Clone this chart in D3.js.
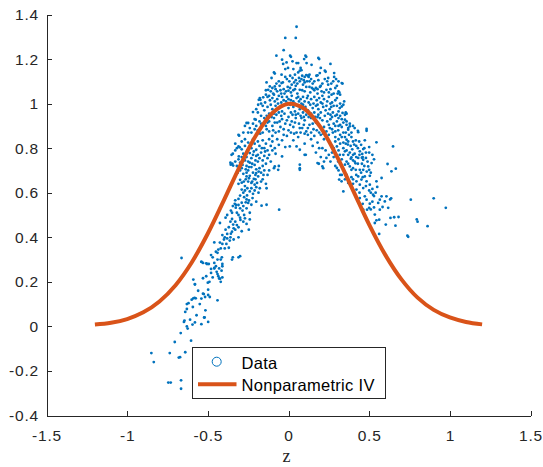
<!DOCTYPE html>
<html>
<head>
<meta charset="utf-8">
<script src="https://cdn.jsdelivr.net/npm/d3@7"></script>
<style>
  body { margin: 0; background: #fff; }
  svg { display: block; }
  text { font-family: "Liberation Sans", Arial, Helvetica, sans-serif; }
</style>
</head>
<body>
<svg id="chart" width="543" height="467"></svg>
<script>
// tick labels
const xTicks = [-1.5, -1, -0.5, 0, 0.5, 1, 1.5];
const yTicks = [-0.4, -0.2, 0, 0.2, 0.4, 0.6, 0.8, 1, 1.2, 1.4];

// Nonparametric IV curve
const curveZ = [-1.2, -1.1, -1.0, -0.9, -0.8, -0.7, -0.6, -0.5, -0.4, -0.3, -0.2, -0.1, 0,
                0.1, 0.2, 0.3, 0.4, 0.5, 0.6, 0.7, 0.8, 0.9, 1.0, 1.1, 1.2];
const curveY = [0.008, 0.016, 0.033, 0.063, 0.112, 0.185, 0.287, 0.417, 0.567, 0.721, 0.859, 0.958, 0.999,
                0.976, 0.892, 0.763, 0.611, 0.457, 0.321, 0.211, 0.129, 0.074, 0.040, 0.020, 0.009];

// scatter data [z, y], grouped by region of the cloud
const tailPoints = [
  [-0.85,-0.12],[-0.835,-0.16],[-0.736,-0.12],[-0.68,-0.14],[-0.672,-0.138],[-0.64,-0.116],[-0.745,-0.252],
  [-0.73,-0.252],[-0.666,-0.242],[-0.666,-0.28],[-0.705,-0.07],[-0.604,-0.064],[-0.668,-0.03],[-0.645,0.026],
  [-0.648,0.02],[-0.63,0.0],[-0.625,-0.01],[-0.595,0.008],[-0.58,0.018],[-0.54,0.01],[-0.498,0.02],[-0.52,0.04],
  [-0.64,0.065],[-0.63,0.078],[-0.593,0.087],[-0.63,0.1],[-0.62,0.104],[-0.59,0.126],[-0.582,0.128],[-0.575,0.126],
  [-0.54,0.125],[-0.517,0.132],[-0.488,0.132],[-0.44,0.117],[-0.53,0.147],[-0.525,0.145],[-0.498,0.141],
  [-0.515,0.072],[-0.523,0.04],[-0.59,0.21],[-0.58,0.19],[-0.58,0.188],[-0.53,0.216],[-0.51,0.225],[-0.5,0.196],
  [-0.49,0.2],[-0.498,0.165],[-0.48,0.258],[-0.46,0.262],[-0.445,0.245],[-0.44,0.235],[-0.435,0.225],[-0.43,0.215],
  [-0.424,0.214],[-0.42,0.2],[-0.41,0.22],[-0.41,0.28],[-0.51,0.283],[-0.505,0.28],[-0.54,0.29],[-0.663,0.307],
  [-0.48,0.24],[-0.47,0.22],[-0.56,0.16],[-0.55,0.1],[-0.57,0.05],[-0.61,0.03],[-0.6,0.12]
];

const leftArmPoints = [
  [-0.54,0.29],[-0.53,0.285],[-0.494,0.28],[-0.46,0.26],[-0.41,0.27],[-0.415,0.25],[-0.35,0.30],[-0.31,0.31],
  [-0.413,0.31],[-0.42,0.3],[-0.345,0.31],[-0.3,0.315],[-0.45,0.335],[-0.44,0.33],[-0.435,0.345],[-0.48,0.32],
  [-0.395,0.35],[-0.41,0.37],[-0.37,0.353],[-0.425,0.376],[-0.46,0.377],[-0.395,0.4],[-0.38,0.415],[-0.364,0.385],
  [-0.357,0.416],[-0.35,0.425],[-0.31,0.4],[-0.4,0.39],[-0.38,0.395],[-0.34,0.39],[-0.29,0.427],[-0.33,0.434],
  [-0.39,0.434],[-0.246,0.434],[-0.425,0.464],[-0.343,0.457],[-0.39,0.488],[-0.38,0.5],[-0.35,0.482],
  [-0.24,0.48],[-0.26,0.46],[-0.28,0.47],[-0.357,0.52],[-0.35,0.51],[-0.333,0.55],[-0.325,0.545],[-0.3,0.488],
  [-0.298,0.478],[-0.285,0.52],[-0.275,0.5],[-0.24,0.51],[-0.327,0.533],[-0.345,0.54],[-0.2,0.56],
  [-0.3,0.587],[-0.28,0.6],[-0.275,0.58],[-0.31,0.572],[-0.33,0.566],[-0.265,0.557],[-0.28,0.54],[-0.25,0.554],
  [-0.23,0.546],[-0.223,0.576],[-0.257,0.588],[-0.136,0.546],[-0.167,0.542],[-0.058,0.524],
  [-0.29,0.614],[-0.27,0.63],[-0.23,0.62],[-0.24,0.606],[-0.186,0.6],[-0.178,0.62],[-0.136,0.62],
  [-0.26,0.673],[-0.24,0.676],[-0.2,0.688],[-0.188,0.673],[-0.215,0.662],[-0.195,0.644],[-0.277,0.65],
  [-0.3,0.658],[-0.25,0.65],[-0.23,0.644],[-0.21,0.636],[-0.16,0.66],[-0.14,0.64],[-0.17,0.65],
  [-0.358,0.726],[-0.348,0.73],[-0.36,0.735],[-0.343,0.722],[-0.33,0.74],[-0.32,0.72],[-0.3,0.735],[-0.29,0.71],
  [-0.27,0.745],[-0.26,0.72],[-0.25,0.7],[-0.24,0.735],[-0.23,0.715],[-0.22,0.69],[-0.21,0.725],[-0.2,0.705],
  [-0.19,0.74],[-0.18,0.71],[-0.17,0.69],[-0.16,0.72],[-0.15,0.7],[-0.14,0.73],[-0.13,0.68],[-0.12,0.7],
  [-0.11,0.74],[-0.06,0.72],[-0.09,0.71],[-0.085,0.718],[-0.064,0.703],
  [-0.33,0.79],[-0.32,0.8],[-0.29,0.795],[-0.27,0.81],[-0.255,0.79],[-0.23,0.8],[-0.215,0.785],[-0.19,0.77],
  [-0.165,0.8],[-0.145,0.785],[-0.12,0.77],[-0.1,0.79],[-0.08,0.775],[-0.31,0.75],[-0.29,0.76],[-0.27,0.765],
  [-0.25,0.74],[-0.22,0.77],[-0.205,0.745],[-0.18,0.755],[-0.16,0.745],[-0.13,0.755],[-0.285,0.725],
  [-0.265,0.705],[-0.245,0.715],[-0.225,0.73],[-0.205,0.68],[-0.185,0.695],[-0.155,0.68],[-0.28,0.685],
  [-0.26,0.69],[-0.3,0.7],[-0.315,0.69],[-0.31,0.64],[-0.29,0.645],[-0.265,0.66],[-0.245,0.665],[-0.225,0.65],
  [-0.205,0.66],[-0.27,0.61],[-0.255,0.62],[-0.21,0.61],[-0.2,0.625],[-0.22,0.595],[-0.26,0.57],[-0.245,0.565],
  [-0.29,0.555],[-0.31,0.545],[-0.3,0.53],[-0.26,0.53],[-0.32,0.51],[-0.31,0.5],[-0.27,0.485],[-0.36,0.47],
  [-0.33,0.47],[-0.32,0.455],[-0.37,0.445],[-0.34,0.44],[-0.31,0.445],[-0.36,0.4],[-0.41,0.41],[-0.42,0.35],
  [-0.385,0.37],[-0.44,0.3],[-0.46,0.285],[-0.47,0.31],[-0.45,0.27],[-0.43,0.26]
];

const corePoints = [
  // upper edge and outliers
  [0.05,1.345],[-0.02,1.295],[0.045,1.295],[-0.03,1.24],[-0.075,1.215],[0.01,1.215],[0.015,1.21],[0.105,1.215],
  [0.11,1.21],[0.185,1.205],[0.19,1.2],[0.26,1.178],[-0.04,1.197],[-0.012,1.185],[-0.033,1.178],[0.025,1.19],
  [0.05,1.182],[0.097,1.2],[0.06,1.182],[0.143,1.174],[0.112,1.182],[0.2,1.16],[-0.003,1.16],[-0.02,1.155],
  [0.03,1.155],[0.075,1.16],[0.23,1.143],[0.225,1.148],[0.283,1.137],[0.194,1.137],[-0.09,1.14],[-0.085,1.135],
  // 1.05 - 1.15
  [-0.105,1.115],[-0.136,1.095],[-0.043,1.13],[-0.043,1.092],[-0.02,1.12],[-0.01,1.11],[0.01,1.125],[0.005,1.1],
  [0.025,1.115],[0.04,1.13],[0.045,1.105],[0.06,1.14],[0.07,1.148],[0.08,1.15],[0.065,1.115],[0.08,1.11],
  [0.095,1.105],[0.1,1.12],[0.11,1.128],[0.12,1.125],[0.13,1.13],[0.125,1.12],[0.173,1.125],[0.18,1.127],
  [0.246,1.115],[0.283,1.12],[0.277,1.1],[0.33,1.092],[0.246,1.085],[0.2,1.08],[0.195,1.075],[0.17,1.07],
  [0.18,1.065],[0.145,1.07],[0.155,1.065],[0.16,1.06],[0.13,1.075],[0.07,1.062],[0.085,1.06],[0.1,1.055],
  [0.04,1.065],[0.31,1.055],[0.315,1.05],[0.305,1.045],[0.32,1.04],[0.267,1.04],[0.235,1.062],[0.22,1.05],
  [0.205,1.055],[0.21,1.035],[-0.085,1.077],[-0.116,1.077],[-0.126,1.062],[-0.11,1.055],[-0.07,1.055],
  [-0.05,1.06],[-0.03,1.065],[-0.015,1.055],[0.0,1.058],[0.015,1.05],[0.03,1.06],[0.045,1.08],[0.02,1.085],
  [-0.06,1.1],[-0.075,1.09],[0.13,1.1],[0.15,1.09],[0.09,1.085],[0.11,1.075],[0.26,1.065],[0.29,1.07],[0.335,1.09],
  [-0.14,1.06],[-0.1,1.07],[-0.095,1.045],[-0.08,1.065],[-0.055,1.08],[-0.035,1.095],[-0.025,1.045],
  [-0.005,1.075],[0.01,1.07],[0.035,1.095],[0.055,1.09],[0.07,1.1],[0.085,1.125],[0.1,1.095],[0.115,1.1],
  [0.14,1.11],[0.16,1.1],[0.185,1.105],[0.21,1.09],[0.225,1.11],[0.24,1.1],[0.265,1.09],[0.3,1.08],[0.295,1.11],
  [0.31,1.1],[0.25,1.05],[0.28,1.045],[0.18,1.045],[0.135,1.05],[0.055,1.045],[-0.045,1.045],
  // 0.95 - 1.05
  [-0.184,1.017],[-0.174,1.017],[-0.157,1.028],[-0.188,0.995],[-0.14,1.04],[-0.178,1.025],[-0.13,1.03],
  [-0.12,1.035],[-0.1,1.025],[-0.09,1.04],[-0.07,1.02],[-0.06,1.035],[-0.04,1.03],[-0.03,1.015],[-0.01,1.03],
  [0.0,1.02],[0.02,1.035],[0.03,1.01],[0.05,1.025],[0.06,1.03],[0.075,1.02],[0.09,1.03],[0.1,1.01],[0.115,1.025],
  [0.12,1.035],[0.14,1.02],[0.16,1.03],[0.175,1.015],[0.19,1.025],[0.2,1.005],[0.22,1.02],[0.24,1.01],[0.25,1.03],
  [0.26,1.0],[0.27,1.005],[0.29,1.015],[0.3,0.99],[0.33,0.987],[0.318,0.98],[0.34,0.995],[0.355,0.96],
  [0.36,0.955],[0.35,0.95],[0.335,0.958],[-0.22,0.962],[-0.2,0.975],[-0.16,0.99],[-0.15,0.97],[-0.13,0.985],
  [-0.11,0.995],[-0.1,0.975],[-0.08,0.99],[-0.065,1.0],[-0.05,0.985],[-0.04,0.965],[-0.02,0.995],[0.0,0.98],
  [0.01,0.995],[0.03,0.985],[0.04,0.965],[0.055,0.99],[0.07,0.975],[0.08,1.0],[0.09,0.96],[0.105,0.985],
  [0.12,0.97],[0.135,0.995],[0.15,0.98],[0.16,0.96],[0.17,0.99],[0.185,0.975],[0.2,0.96],[0.215,0.985],
  [0.23,0.97],[0.245,0.955],[0.255,0.975],[0.275,0.96],[0.29,0.945],[0.31,0.965],[-0.06,0.96],[-0.09,0.955],
  [-0.12,0.955],[0.015,0.96],[0.06,0.955],[0.11,0.95],[0.14,0.955],[0.185,0.95],
  [-0.17,1.0],[-0.145,1.005],[-0.115,1.015],[-0.085,1.01],[-0.045,1.005],[-0.015,1.01],[0.015,1.015],[0.04,1.0],
  [0.065,1.01],[0.09,0.995],[0.125,1.005],[0.155,1.0],[0.18,0.995],[0.21,1.0],[0.235,0.99],[0.265,0.985],
  [0.28,0.99],[0.3,1.025],[0.32,1.0],[0.345,1.01],
  [-0.19,0.96],[-0.17,0.945],[-0.135,0.945],[-0.105,0.94],[-0.075,0.95],[-0.045,0.945],[-0.025,0.955],
  [0.025,0.95],[0.045,0.95],[0.075,0.945],[0.095,0.94],[0.125,0.94],[0.165,0.94],[0.195,0.935],[0.225,0.945],
  [0.26,0.95],[0.3,0.95],[0.32,0.945],
  // 0.85 - 0.95
  [-0.21,0.93],[-0.203,0.928],[-0.25,0.913],[-0.26,0.913],[-0.24,0.89],[-0.306,0.856],[-0.31,0.86],[-0.28,0.87],
  [-0.27,0.9],[-0.23,0.87],[-0.2,0.9],[-0.19,0.88],[-0.17,0.91],[-0.16,0.87],[-0.15,0.935],[-0.14,0.9],
  [-0.12,0.92],[-0.12,0.875],[-0.1,0.9],[-0.09,0.935],[-0.08,0.87],[-0.07,0.915],[-0.05,0.895],[-0.04,0.93],
  [-0.03,0.86],[-0.02,0.91],[0.0,0.94],[0.0,0.88],[0.02,0.92],[0.03,0.895],[0.045,0.935],[0.05,0.87],
  [0.065,0.91],[0.08,0.935],[0.085,0.89],[0.1,0.925],[0.11,0.875],[0.13,0.905],[0.14,0.935],[0.155,0.885],
  [0.17,0.915],[0.18,0.94],[0.19,0.87],[0.21,0.925],[0.22,0.895],[0.235,0.875],[0.25,0.905],[0.256,0.89],
  [0.26,0.93],[0.27,0.885],[0.28,0.91],[0.29,0.9],[0.3,0.92],[0.308,0.88],[0.32,0.905],[0.33,0.895],
  [0.35,0.928],[0.37,0.89],[0.355,0.87],[0.38,0.898],[0.37,0.883],[0.34,0.87],[0.2,0.86],[0.16,0.855],
  [0.12,0.86],[0.06,0.85],[-0.01,0.855],[-0.1,0.855],
  [-0.22,0.91],[-0.18,0.92],[-0.13,0.915],[-0.085,0.915],[-0.055,0.92],[-0.01,0.925],[0.01,0.905],[0.04,0.915],
  [0.07,0.89],[0.095,0.905],[0.12,0.89],[0.15,0.91],[0.19,0.9],[0.205,0.885],[0.24,0.92],[0.275,0.87],
  [0.31,0.9],[0.34,0.915],[0.36,0.905],
  [-0.25,0.87],[-0.21,0.885],[-0.175,0.865],[-0.135,0.885],[-0.095,0.88],[-0.06,0.875],[-0.03,0.885],
  [0.015,0.87],[0.035,0.865],[0.075,0.87],[0.1,0.865],[0.14,0.87],[0.175,0.88],[0.215,0.865],[0.25,0.86],
  [0.29,0.875],[0.32,0.86],
  // 0.7 - 0.85, inside the arc
  [-0.31,0.808],[-0.302,0.804],[-0.33,0.82],[-0.29,0.83],[-0.27,0.84],[-0.25,0.825],[-0.24,0.805],[-0.22,0.84],
  [-0.2,0.793],[-0.21,0.82],[-0.19,0.83],[-0.18,0.81],[-0.17,0.78],[-0.16,0.835],[-0.15,0.8],[-0.14,0.82],
  [-0.13,0.79],[-0.12,0.84],[-0.11,0.81],[-0.1,0.83],[-0.085,0.8],[-0.07,0.84],[-0.06,0.815],[-0.04,0.835],
  [-0.02,0.805],[0.008,0.808],[0.05,0.808],[0.07,0.793],[0.03,0.835],[0.1,0.82],[0.1,0.77],[0.14,0.84],
  [0.18,0.825],[0.22,0.84],[-0.24,0.778],[-0.2,0.765],[-0.26,0.76],[-0.353,0.77],[-0.345,0.775],[-0.308,0.763],
  [-0.28,0.775],[-0.23,0.755],[-0.15,0.765],[-0.04,0.763],[0.107,0.77],[0.17,0.78],[0.2,0.76],[0.23,0.79],
  [0.25,0.77],[0.26,0.74],[0.22,0.74],[0.19,0.8],[0.15,0.81],[0.28,0.76],[0.235,0.756],[0.21,0.8],
  [0.07,0.71],[0.07,0.703],[0.07,0.726],[0.18,0.733],[0.21,0.718],[0.188,0.73],[0.215,0.71]
];

const rightArmPoints = [
  [0.3,0.808],[0.34,0.8],[0.36,0.838],[0.368,0.816],[0.28,0.8],[0.27,0.81],[0.29,0.83],[0.32,0.82],[0.34,0.825],
  [0.355,0.82],[0.37,0.83],[0.4,0.77],[0.455,0.757],[0.46,0.76],[0.463,0.796],[0.5,0.805],[0.545,0.826],
  [0.473,0.835],[0.438,0.83],[0.417,0.835],[0.407,0.816],[0.442,0.786],[0.41,0.775],[0.44,0.77],[0.386,0.753],
  [0.39,0.758],[0.457,0.774],[0.648,0.808],[0.318,0.77],[0.35,0.786],[0.36,0.79],[0.432,0.756],[0.48,0.756],
  [0.463,0.748],[0.53,0.75],[0.41,0.89],[0.43,0.878],[0.432,0.872],[0.484,0.886],[0.484,0.878],
  [0.614,0.729],[0.638,0.696],[0.665,0.708],[0.494,0.718],[0.515,0.733],[0.463,0.703],[0.51,0.69],[0.485,0.695],
  [0.473,0.673],[0.504,0.676],[0.452,0.659],[0.484,0.651],[0.504,0.636],[0.545,0.651],[0.577,0.666],[0.52,0.617],
  [0.55,0.626],[0.463,0.621],[0.442,0.636],[0.421,0.651],[0.432,0.673],[0.38,0.718],[0.39,0.703],[0.417,0.703],
  [0.442,0.703],[0.41,0.74],[0.415,0.732],[0.455,0.73],[0.5,0.703],[0.34,0.703],[0.35,0.726],[0.3,0.711],
  [0.308,0.74],[0.32,0.73],[0.37,0.644],[0.329,0.651],[0.314,0.659],[0.34,0.606],[0.421,0.614],[0.36,0.68],
  [0.33,0.68],[0.758,0.569],[0.9,0.575],[0.975,0.532],[0.636,0.575],[0.63,0.57],[0.607,0.584],[0.577,0.584],
  [0.597,0.561],[0.566,0.569],[0.556,0.554],[0.583,0.536],[0.566,0.524],[0.535,0.502],[0.562,0.479],[0.545,0.476],
  [0.618,0.532],[0.53,0.534],[0.5,0.532],[0.504,0.551],[0.484,0.569],[0.524,0.591],[0.53,0.585],[0.442,0.576],
  [0.473,0.584],[0.463,0.524],[0.487,0.524],[0.51,0.525],[0.795,0.48],[0.8,0.47],[0.862,0.45],[0.682,0.491],
  [0.655,0.49],[0.632,0.487],[0.663,0.452],[0.603,0.457],[0.535,0.464],[0.737,0.407],[0.742,0.402],[0.562,0.415],
  [0.375,0.86],[0.39,0.85],[0.4,0.83],[0.385,0.81],[0.395,0.795],[0.42,0.81],[0.43,0.8],[0.45,0.815],[0.47,0.8],
  [0.48,0.78],[0.5,0.78],[0.52,0.77],[0.37,0.77],[0.38,0.78],[0.42,0.76],[0.4,0.745],[0.43,0.73],[0.47,0.72],
  [0.49,0.74],[0.36,0.74],[0.37,0.73],[0.4,0.71],[0.45,0.69],[0.42,0.68],[0.39,0.67],[0.4,0.66],[0.46,0.67],
  [0.48,0.63],[0.44,0.6],[0.5,0.61],[0.51,0.6],[0.46,0.55],[0.52,0.56],[0.54,0.6],[0.4,0.64],[0.35,0.66],
  [0.32,0.68],[0.31,0.7],[0.29,0.72],[0.3,0.76],[0.27,0.78],[0.33,0.75],[0.34,0.77],[0.31,0.79],[0.29,0.85],
  [0.31,0.84],[0.33,0.85],[0.35,0.85],[0.39,0.87],[0.4,0.9],[0.38,0.91],[0.36,0.92],[0.33,0.93],[0.31,0.935],
  [0.27,0.94]
];

const dataPoints = tailPoints.concat(leftArmPoints, corePoints, rightArmPoints);

const blue = "#0072BD", orange = "#D95319", axisColor = "#262626";

const svg = d3.select("#chart");

const x = d3.scaleLinear().domain([-1.5, 1.5]).range([46.5, 530.5]);
const y = d3.scaleLinear().domain([-0.4, 1.4]).range([415.5, 14.5]);

const fmt = d => String(+d.toFixed(1));

// axes (MATLAB style: box off, ticks inside)
const gx = svg.append("g")
    .attr("transform", `translate(0,${y.range()[0]})`)
    .call(d3.axisBottom(x).tickValues(xTicks).tickFormat(fmt).tickSizeInner(-5).tickSizeOuter(0).tickPadding(14.5));
const gy = svg.append("g")
    .attr("transform", `translate(${x.range()[0]},0)`)
    .call(d3.axisLeft(y).tickValues(yTicks).tickFormat(fmt).tickSizeInner(-5).tickSizeOuter(0).tickPadding(7.5));

[gx, gy].forEach(g => {
    g.select(".domain").attr("stroke", axisColor).attr("shape-rendering", "crispEdges");
    g.selectAll(".tick line").attr("stroke", axisColor).attr("shape-rendering", "crispEdges");
    g.selectAll(".tick text")
        .attr("fill", axisColor)
        .style("font-family", '"Liberation Sans", Arial, sans-serif')
        .style("font-size", "15.5px")
        .style("letter-spacing", "0.8px");
});

// x label (sits right at the bottom edge, as in the original)
svg.append("text")
    .attr("x", x(0) - 2)
    .attr("y", 462)
    .attr("text-anchor", "middle")
    .style("font-family", '"Liberation Serif", "Times New Roman", serif')
    .style("font-size", "18px")
    .attr("fill", axisColor)
    .text("z");

// scatter
svg.append("g")
    .selectAll("circle")
    .data(dataPoints)
    .enter().append("circle")
    .attr("cx", d => x(d[0]))
    .attr("cy", d => y(d[1]))
    .attr("r", 1.4)
    .attr("fill", blue);

// curve
const line = d3.line()
    .x(d => x(d[0]))
    .y(d => y(d[1]))
    .curve(d3.curveCatmullRom);

svg.append("path")
    .datum(curveZ.map((z, i) => [z, curveY[i]]))
    .attr("d", line)
    .attr("fill", "none")
    .attr("stroke", orange)
    .attr("stroke-width", 4);

// legend
const lg = svg.append("g");
lg.append("rect")
    .attr("x", 192.5).attr("y", 347.5)
    .attr("width", 193).attr("height", 51)
    .attr("fill", "#fff")
    .attr("stroke", axisColor)
    .attr("stroke-width", 1);
lg.append("circle")
    .attr("cx", 216.7).attr("cy", 361.7).attr("r", 4.5)
    .attr("fill", "none").attr("stroke", blue).attr("stroke-width", 1);
lg.append("line")
    .attr("x1", 198).attr("x2", 236.5)
    .attr("y1", 384.3).attr("y2", 384.3)
    .attr("stroke", orange).attr("stroke-width", 4);
lg.append("text")
    .attr("x", 241.5).attr("y", 369)
    .attr("fill", "#000")
    .style("font-size", "16.5px")
    .style("letter-spacing", "0.3px")
    .text("Data");
lg.append("text")
    .attr("x", 241.5).attr("y", 391)
    .attr("fill", "#000")
    .style("font-size", "16.5px")
    .style("letter-spacing", "0.3px")
    .text("Nonparametric IV");
</script>
</body>
</html>
